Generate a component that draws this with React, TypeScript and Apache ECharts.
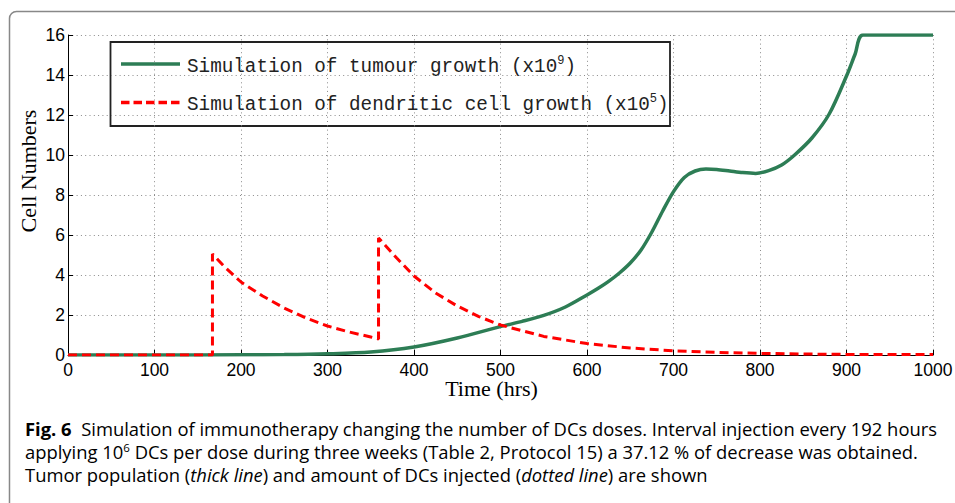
import React, { useEffect, useRef } from "react";
import * as echarts from "echarts";

// ---- data ----
const tumourHours = [0, 100, 200, 250, 300, 350, 400, 450, 500, 525, 550, 575, 600, 612.5, 625, 637.5, 650, 662.5, 675, 687.5, 700, 712.5, 725, 737.5, 750, 765, 780, 795, 810, 825, 840, 860, 880, 900, 910, 919, 1000];
const tumourValues = [0, 0, 0.01, 0.02, 0.06, 0.15, 0.4, 0.85, 1.42, 1.68, 1.98, 2.4, 3.0, 3.32, 3.68, 4.1, 4.6, 5.25, 6.15, 7.2, 8.17, 8.88, 9.2, 9.3, 9.28, 9.2, 9.12, 9.08, 9.22, 9.5, 10.0, 10.85, 12.05, 13.95, 15.05, 16, 16];

const dcHours = [0, 167, 167, 180, 200, 225, 250, 275, 300, 325, 350, 359, 359, 380, 400, 425, 450, 475, 500, 550, 600, 650, 700, 750, 800, 850, 900, 950, 1000];
const dcValues = [0, 0, 5.05, 4.45, 3.65, 2.95, 2.35, 1.85, 1.45, 1.15, 0.9, 0.8, 5.85, 4.85, 3.95, 3.1, 2.45, 1.92, 1.5, 0.93, 0.57, 0.35, 0.21, 0.13, 0.08, 0.05, 0.03, 0.02, 0.02];

const xTicks = { min: 0, max: 1000, interval: 100 };
const yTicks = { min: 0, max: 16, interval: 2 };

const seriesNames = [
  "Simulation of tumour growth (x10^9)",
  "Simulation of dendritic cell growth (x10^5)",
];

const captionLines = [
  "{b|Fig. 6}  Simulation of immunotherapy changing the number of DCs doses. Interval injection every 192 hours",
  "applying 10{sup|6} DCs per dose during three weeks (Table 2, Protocol 15) a 37.12 % of decrease was obtained.",
  "Tumor population ({i|thick line}) and amount of DCs injected ({i|dotted line}) are shown",
];

const xTitle = "Time (hrs)";
const yTitle = "Cell Numbers";

const GREEN = "#2d7d55";
const RED = "#ff0000";

function legendRich(name: string) {
  const m = name.match(/^(.*)\^(\d+)\)$/);
  if (!m) return name;
  return "{t|" + m[1] + "}{sup|" + m[2] + "}{t|)}";
}

export default function App() {
  const ref = useRef<HTMLDivElement>(null);

  useEffect(() => {
    if (!ref.current) return;
    const chart = echarts.init(ref.current, undefined, { renderer: "svg" });

    const capFont = "Open Sans";
    const capSize = 18.4;
    const capLH = 21;
    const capRich = {
      n: { fontFamily: capFont, fontSize: capSize, fill: "#000", lineHeight: capLH },
      b: { fontFamily: capFont, fontSize: capSize, fontWeight: "bold", fill: "#000", lineHeight: capLH },
      i: { fontFamily: capFont, fontSize: capSize, fontStyle: "italic", fill: "#000", lineHeight: capLH },
      sup: { fontFamily: capFont, fontSize: 11.5, fill: "#000", lineHeight: 11, padding: [0, 0, 8, 0] },
    };
    const capY = [428, 451, 474];

    const legRich = {
      t: { fontFamily: "Liberation Mono", fontSize: 19.3, fill: "#222" },
      sup: { fontFamily: "Liberation Mono", fontSize: 12, fill: "#222", padding: [0, 0, 12, 0] },
    };

    const axisCommon = {
      axisLine: { show: true, lineStyle: { color: "#000", width: 1 } },
      axisTick: { show: true, inside: true, length: 5, lineStyle: { color: "#000" } },
      splitLine: { show: true, lineStyle: { color: "#8a8a8a", width: 1, type: [1, 3.3] } },
    };

    chart.setOption({
      animation: false,
      backgroundColor: "#fff",
      grid: { left: 68, top: 35, right: 22, bottom: 148, containLabel: false, outerBoundsMode: "none" },
      xAxis: {
        type: "value",
        min: xTicks.min,
        max: xTicks.max,
        interval: xTicks.interval,
        ...axisCommon,
        axisLabel: {
          fontFamily: "Liberation Sans",
          fontSize: 17.5,
          color: "#000",
          margin: 8,
          lineHeight: 14,
          formatter: (v: number) => String(v),
        },
      },
      yAxis: {
        type: "value",
        min: yTicks.min,
        max: yTicks.max,
        interval: yTicks.interval,
        ...axisCommon,
        axisLabel: {
          fontFamily: "Liberation Sans",
          fontSize: 17.5,
          color: "#000",
          margin: 3,
          formatter: (v: number) => String(v),
        },
      },
      legend: { show: false, data: seriesNames },
      series: [
        {
          name: seriesNames[0],
          type: "line",
          data: tumourHours.map((h, i) => [h, tumourValues[i]]),
          smooth: 0.3,
          symbol: "none",
          lineStyle: { color: GREEN, width: 3.5 },
          itemStyle: { color: GREEN },
          z: 3,
        },
        {
          name: seriesNames[1],
          type: "line",
          data: dcHours.map((h, i) => [h, dcValues[i]]),
          symbol: "none",
          lineStyle: { color: RED, width: 3, type: [9, 5] },
          itemStyle: { color: RED },
          z: 4,
        },
      ],
      graphic: [
        {
          type: "rect",
          z: -10,
          silent: true,
          shape: { x: 9.5, y: 11.5, width: 1000, height: 600, r: 7 },
          style: { fill: "none", stroke: "#888", lineWidth: 1.5 },
        },
        // legend box
        {
          type: "group",
          z: 50,
          children: [
            {
              type: "rect",
              shape: { x: 110.5, y: 42, width: 559.5, height: 84 },
              style: { fill: "#fff", stroke: "#222", lineWidth: 1.8 },
            },
            {
              type: "line",
              shape: { x1: 121, y1: 64, x2: 180, y2: 64 },
              style: { stroke: GREEN, lineWidth: 3.5 },
            },
            {
              type: "line",
              shape: { x1: 121, y1: 102.5, x2: 180, y2: 102.5 },
              style: { stroke: RED, lineWidth: 3.5, lineDash: [8.5, 4] },
            },
            {
              type: "text",
              x: 187,
              y: 67,
              style: { text: legendRich(seriesNames[0]), rich: legRich, verticalAlign: "middle", align: "left" },
            },
            {
              type: "text",
              x: 187,
              y: 105,
              style: { text: legendRich(seriesNames[1]), rich: legRich, verticalAlign: "middle", align: "left" },
            },
          ],
        },
        {
          type: "text",
          x: 28,
          y: 171,
          rotation: Math.PI / 2,
          style: {
            text: yTitle,
            fontFamily: "Liberation Serif",
            fontSize: 22,
            fill: "#000",
            align: "center",
            verticalAlign: "middle",
          },
        },
        {
          type: "text",
          x: 491.5,
          y: 388,
          style: {
            text: xTitle,
            fontFamily: "Liberation Serif",
            fontSize: 22,
            lineHeight: 16,
            fill: "#000",
            align: "center",
            verticalAlign: "middle",
          },
        },
        ...captionLines.map((line, i) => ({
          type: "text",
          x: 25,
          y: capY[i],
          style: {
            text: line,
            fontFamily: capFont,
            fontSize: capSize,
            lineHeight: capLH,
            fill: "#000",
            align: "left",
            verticalAlign: "middle",
            rich: capRich,
          },
        })),
      ],
    });

    return () => chart.dispose();
  }, []);

  return (
    <div
      ref={ref}
      style={{ position: "fixed", left: 0, top: 0, width: 955, height: 503 }}
    />
  );
}
